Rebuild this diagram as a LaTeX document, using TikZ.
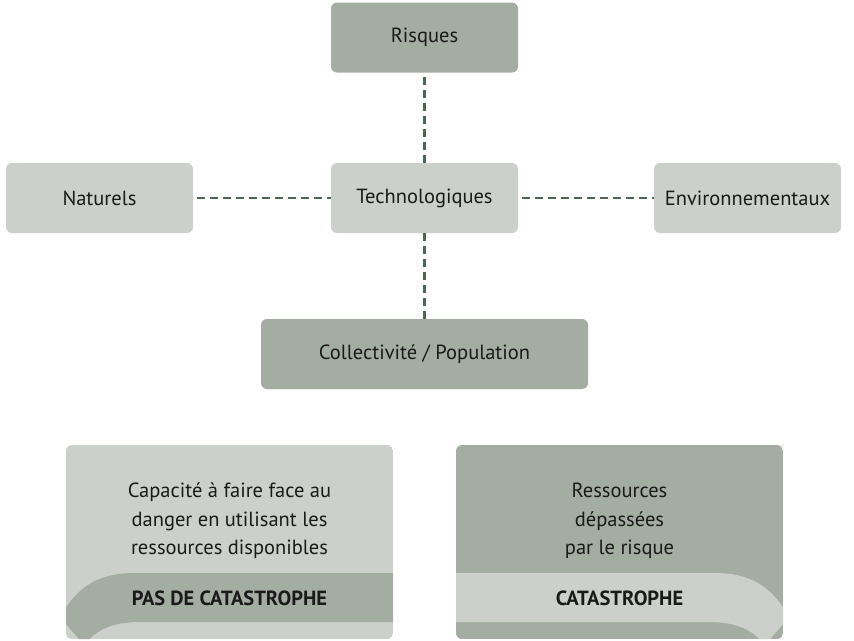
\documentclass[tikz,border=0pt]{standalone}
\usepackage{fontspec}
\setmainfont{PT Sans}
\definecolor{darkfill}{HTML}{A4ADA1}
\definecolor{lightfill}{HTML}{CCD0CB}
\definecolor{dashcol}{HTML}{4B6652}
\definecolor{ink}{HTML}{1A1A1A}
\begin{document}
\begin{tikzpicture}[x=1pt,y=-1pt,
  box/.style={rounded corners=6pt, minimum width=187pt, minimum height=70pt, font=\fontsize{20.5}{24}\selectfont, text=ink, inner sep=0pt},
  darkbox/.style={box, fill=darkfill},
  lightbox/.style={box, fill=lightfill},
  conn/.style={draw=dashcol, line width=2.8pt, dash pattern=on 8pt off 5pt},
  bodytext/.style={font=\fontsize{20.5}{28.5}\selectfont, text=ink, align=center},
  bandtext/.style={font=\fontsize{20.5}{24}\selectfont\bfseries, text=ink}]
\useasboundingbox (0,0) rectangle (854,640);

\node[darkbox] (ris) at (424.5,37.5) {Risques};
\node[lightbox] (nat) at (99.5,198) {Naturels};
\node[lightbox] (tec) at (424.5,198) {Technologiques};
\node[lightbox] (env) at (747.5,198) {Environnementaux};
\node[darkbox, minimum width=327pt] (col) at (424.5,354) {Collectivité / Population};

\draw[conn, shorten <=4pt] (ris) -- (tec);
\draw[conn, shorten <=4pt] (nat) -- (tec);
\draw[conn, shorten <=4pt] (tec) -- (env);
\draw[conn] (tec) -- (col);

% bottom left
\begin{scope}
\clip[rounded corners=6pt] (66,445) rectangle (393,639);
\fill[lightfill] (66,445) rectangle (393,639);
\fill[darkfill] (60,617) .. controls (78,585) and (100,573) .. (135,573) -- (400,573) -- (400,622) -- (140,622) .. controls (112,622) and (96,630) .. (84,645) -- cycle;
\end{scope}
\node[bodytext] (capa) at (229.5,521) {Capacité à faire face au\\danger en utilisant les\\ressources disponibles};
\node[bandtext] (pas) at (229.5,598) {PAS DE CATASTROPHE};

% bottom right
\begin{scope}
\clip[rounded corners=6pt] (456,445) rectangle (783,639);
\fill[darkfill] (456,445) rectangle (783,639);
\fill[lightfill] (789,617) .. controls (771,585) and (749,573) .. (714,573) -- (450,573) -- (450,622) -- (709,622) .. controls (737,622) and (753,630) .. (765,645) -- cycle;
\end{scope}
\node[bodytext] (res) at (619.5,521) {Ressources\\dépassées\\par le risque};
\node[bandtext] (cat) at (619.5,598) {CATASTROPHE};
\end{tikzpicture}
\end{document}
